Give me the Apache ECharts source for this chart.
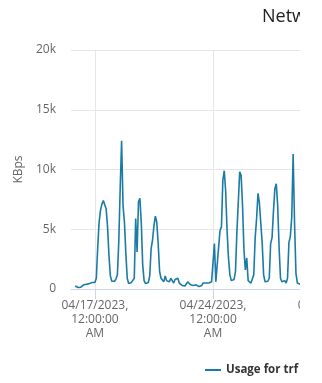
<!DOCTYPE html>
<html><head><meta charset="utf-8">
<script src="https://cdn.jsdelivr.net/npm/echarts@6/dist/echarts.min.js"></script>
<style>
html,body{margin:0;padding:0;background:#fff;}
#clip{width:300px;height:383px;overflow:hidden;position:relative;}
#chart{width:440px;height:383px;}
</style></head>
<body>
<div id="clip"><div id="chart"></div></div>
<script>
// 2-hour samples starting 04/15/2023 2:00 PM
const startTime = new Date(2023, 3, 15, 14, 0, 0);
const stepHours = 2;
const categoryCount = 235;
const labeledIndices = [17, 101, 185];
const seriesName = 'Usage for trf';
const titleText = 'Network Usage';
const yTicks = [0, 5000, 10000, 15000, 20000];
const usage = [
  null, null, null, 250, 200, 120, 250, 150, 300, 350,
  450, 400, 550, 450, 350, 550, 450, 550, 900, 3500,
  5600, 6600, 7100, 7400, 7300, 6700, 5200, 2800, 1100, 650,
  800, 650, 850, 1200, 4000, 8500, 12400, 7000, 5600, 3000,
  900, 450, 500, 550, 450, 900, 5900, 3100, 7300, 7600,
  5500, 2000, 700, 450, 600, 550, 1100, 3400, 4100, 5300,
  6100, 5600, 3800, 1500, 900, 800, 600, 1100, 700, 750,
  600, 900, 700, 500, 800, 650, 900, 500, 350, 300,
  150, 250, 350, 600, 450, 350, 250, 300, 450, 350,
  250, 200, 150, 300, 500, 450, 500, 550, 500, 500,
  600, 650, 3800, 600, 700, 3500, 4900, 5200, 9100, 9900,
  8200, 4900, 2600, 1200, 700, 600, 800, 1500, 4800, 4700,
  9800, 9500, 7000, 3300, 1600, 2600, 700, 800, 500, 600,
  1200, 4300, 5900, 8000, 7200, 5500, 3800, 1200, 600, 500,
  650, 900, 3800, 4300, 6500, 8400, 8800, 7000, 3500, 900,
  600, 550, 700, 500, 900, 3900, 4400, 6000, 11300, 5500,
  1300, 500, 400, 400, 450
];

function pad(n){return (n<10?'0':'')+n;}
function fmt(d){
  let h = d.getHours(); const ap = h>=12?'PM':'AM'; h = h%12; if(h===0) h=12;
  return pad(d.getMonth()+1)+'/'+pad(d.getDate())+'/'+d.getFullYear()+', '+pad(h)+':'+pad(d.getMinutes())+':'+pad(d.getSeconds())+' '+ap;
}
const categories = [];
for (let i=0;i<categoryCount;i++){
  categories.push(fmt(new Date(startTime.getTime()+i*stepHours*3600000)));
}
const showIdx = (idx) => labeledIndices.indexOf(idx) >= 0;
const FONT = '"Open Sans", "DejaVu Sans", sans-serif';

const chart = echarts.init(document.getElementById('chart'), null, {renderer:'canvas'});
chart.setOption({
  animation:false,
  textStyle:{fontFamily:FONT},
  title:{text:titleText, left:257, top:3, textStyle:{fontFamily:FONT,fontSize:18,fontWeight:'normal',color:'#222'}},
  legend:{left:200, top:359, itemWidth:16, itemHeight:12, itemGap:10, icon:'path://M0,5 L16,5 L16,7 L0,7 Z',
    textStyle:{fontFamily:FONT,fontSize:11.5,fontWeight:'bold',color:'#333'}, data:[seriesName]},
  grid:{left:71, right:40, top:50, bottom:94},
  xAxis:{type:'category', data:categories, boundaryGap:false,
    axisLine:{lineStyle:{color:'#ccd6eb'}},
    axisTick:{show:true, interval:showIdx, length:10, lineStyle:{color:'#ccd6eb'}},
    splitLine:{show:true, interval:showIdx, lineStyle:{color:'#e6e6e6'}},
    axisLabel:{interval:showIdx, margin:10, fontSize:12, lineHeight:14, color:'#666', fontFamily:FONT,
      formatter:(v)=>v.replace(', ',',\n').replace(' AM','\nAM').replace(' PM','\nPM')}
  },
  yAxis:{type:'value', min:yTicks[0], max:yTicks[yTicks.length-1], interval:yTicks[1]-yTicks[0],
    name:'KBps', nameLocation:'middle', nameRotate:90, nameGap:45,
    nameTextStyle:{fontFamily:FONT,fontSize:12,color:'#666'},
    axisLine:{show:false}, axisTick:{show:false},
    splitLine:{lineStyle:{color:'#e6e6e6'}},
    axisLabel:{margin:15, fontSize:12, color:'#666', fontFamily:FONT,
      formatter:(v)=> v===0?'0':(v/1000)+'k'}
  },
  series:[{name:seriesName, type:'line', data:usage, showSymbol:false, connectNulls:false,
    lineStyle:{color:'#1b7ba5', width:1.6}, itemStyle:{color:'#1b7ba5'}}]
});
</script>
</body></html>
